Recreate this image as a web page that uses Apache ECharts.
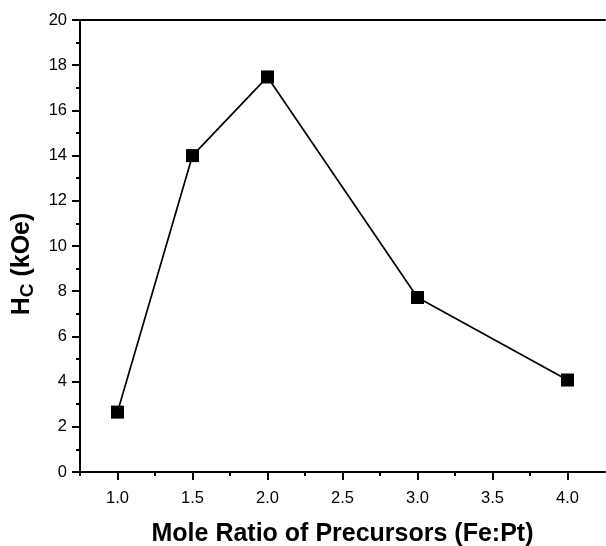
<!DOCTYPE html>
<html>
<head>
<meta charset="utf-8">
<script src="https://cdn.jsdelivr.net/npm/echarts@6/dist/echarts.min.js"></script>
<style>
  html, body { margin: 0; padding: 0; background: #fff; }
  #chart { width: 606px; height: 546px; }
</style>
</head>
<body>
<div id="chart"></div>
<script>
// mole ratio Fe:Pt vs coercivity
var ratio = [1.0, 1.5, 2.0, 3.0, 4.0];
var hc = [2.65, 14.0, 17.48, 7.72, 4.07];
var majorTicks = [1.0, 1.5, 2.0, 2.5, 3.0, 3.5, 4.0];
var minorTicks = [0.75, 1.25, 1.75, 2.25, 2.75, 3.25, 3.75];

var font = '"Liberation Sans", Arial, sans-serif';
var chart = echarts.init(document.getElementById('chart'));

chart.setOption({
  animation: false,
  grid: { left: 80, top: 20, right: 1, bottom: 74, outerBoundsMode: 'none' },
  xAxis: [
    {
      type: 'value', min: 0.75, max: 4.25,
      axisLine: { lineStyle: { color: '#000', width: 2 } },
      axisTick: { customValues: majorTicks, length: 8, lineStyle: { color: '#000', width: 2 } },
      axisLabel: {
        customValues: majorTicks, margin: 18, color: '#000', fontSize: 16.5, fontFamily: font,
        formatter: function (v) { return v.toFixed(1); }
      },
      splitLine: { show: false },
      name: 'Mole Ratio of Precursors (Fe:Pt)',
      nameLocation: 'middle', nameGap: 50,
      nameTextStyle: { color: '#000', fontSize: 25, fontWeight: 'bold', fontFamily: font }
    },
    {
      type: 'value', min: 0.75, max: 4.25, position: 'bottom',
      axisLine: { show: false },
      axisTick: { customValues: minorTicks, length: 4, lineStyle: { color: '#000', width: 2 } },
      axisLabel: { show: false },
      splitLine: { show: false }
    },
    {
      type: 'value', min: 0.75, max: 4.25, position: 'top',
      axisLine: { lineStyle: { color: '#000', width: 2 } },
      axisTick: { show: false },
      axisLabel: { show: false },
      splitLine: { show: false }
    }
  ],
  yAxis: {
    type: 'value', min: 0, max: 20, interval: 2,
    axisLine: { show: true, lineStyle: { color: '#000', width: 2 } },
    axisTick: { show: true, length: 8, lineStyle: { color: '#000', width: 2 } },
    minorTick: { show: true, splitNumber: 2, length: 4, lineStyle: { color: '#000', width: 2 } },
    axisLabel: { margin: 13, color: '#000', fontSize: 16.5, fontFamily: font },
    splitLine: { show: false },
    name: '{h|H}{s|C}{h| (kOe)}',
    nameLocation: 'middle', nameGap: 43, nameRotate: 90,
    nameTextStyle: {
      padding: [0, 36, 0, 0],
      rich: {
        h: { color: '#000', fontSize: 25, fontWeight: 'bold', fontFamily: font },
        s: { color: '#000', fontSize: 19, fontWeight: 'bold', fontFamily: font, verticalAlign: 'bottom', padding: [10, 0, 0, 0] }
      }
    }
  },
  series: [{
    type: 'line',
    data: ratio.map(function (x, i) { return [x, hc[i]]; }),
    symbol: 'rect', symbolSize: 13,
    itemStyle: { color: '#000' },
    lineStyle: { color: '#000', width: 1.7 }
  }]
});
</script>
</body>
</html>
